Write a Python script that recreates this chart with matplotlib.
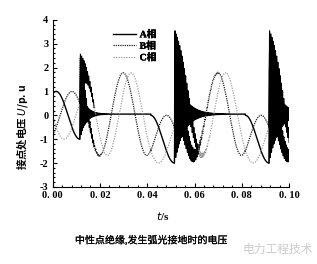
import numpy as np
import matplotlib
matplotlib.use("Agg")
import matplotlib.pyplot as plt
import matplotlib.patheffects as pe
from matplotlib.ticker import MultipleLocator, FuncFormatter

# values (single-phase arc grounding, isolated neutral)
freq = 50.0                      # power frequency
t_peak_a = 0.0015                # first positive peak of phase A
t_ignite = [0.0115, 0.0515, 0.0915]   # arc (re)ignitions, phase A at its negative peak
t_extinct = [0.0415, 0.0815]          # arc extinctions
neutral_shift = [-1.0, -1.0]          # neutral voltage left after each extinction
arc_level = 0.05                      # phase A voltage while the arc burns
burst_tau = [0.0024, 0.004, 0.004]    # decay of the oscillation after each ignition
burst_freq = 2000.0
phase_names = ["A相", "B相", "C相"]

plt.rcParams["axes.unicode_minus"] = False
cjk = ["Liberation Serif", "Noto Sans CJK SC"]

t = np.arange(0.0, 0.1, 2e-6)
theta = 2 * np.pi * freq * (t - t_peak_a)
src = [np.cos(theta), np.cos(theta - 2 * np.pi / 3), np.cos(theta + 2 * np.pi / 3)]

# neutral point voltage, piecewise
vn = np.zeros_like(t)
for k, ti in enumerate(t_ignite):
    t_end = t_extinct[k] if k < len(t_extinct) else 1.0
    on = (t >= ti) & (t < t_end)
    vn[on] = arc_level - src[0][on]
    if k < len(t_extinct):
        t_next = t_ignite[k + 1]
        off = (t >= t_extinct[k]) & (t < t_next)
        vn[off] = neutral_shift[k]

phases = [s + vn for s in src]

# high frequency transient at every ignition
for k, ti in enumerate(t_ignite):
    i0 = np.searchsorted(t, ti)
    dt = t[i0:] - ti
    env = np.exp(-dt / burst_tau[k]) * np.cos(2 * np.pi * burst_freq * dt)
    for p in phases:
        jump = p[i0 - 1] - p[i0]
        p[i0:] = p[i0:] + jump * env

fig = plt.figure(figsize=(3.17, 2.64), dpi=100)
ax = fig.add_axes([0.166, 0.292, 0.746, 0.633])

ax.plot(t, phases[0], color="black", lw=1.0, label=phase_names[0])
ax.plot(t, phases[1], color="#222222", lw=0.9, ls=(0, (1, 0.8)), label=phase_names[1])
ax.plot(t, phases[2], color="#8c8c8c", lw=0.8, ls=(0, (1, 1.3)), label=phase_names[2])

# the transients look solid black in the print
for k, ti in enumerate(t_ignite):
    win = (t >= ti) & (t < ti + 2.5 * burst_tau[k])
    for p in phases:
        ax.plot(t[win], p[win], color="black", lw=0.7)

ax.set_xlim(0, 0.1)
ax.set_ylim(-3, 4)
ax.spines["top"].set_visible(False)
ax.spines["right"].set_visible(False)
ax.xaxis.set_major_locator(MultipleLocator(0.02))
ax.xaxis.set_minor_locator(MultipleLocator(0.004))
ax.yaxis.set_major_locator(MultipleLocator(1))
ax.yaxis.set_minor_locator(MultipleLocator(0.2))
ax.xaxis.set_major_formatter(FuncFormatter(lambda v, _: f"{v:.2f}".replace(".", ". ")))
ax.yaxis.set_major_formatter(FuncFormatter(lambda v, _: f"{v:.0f}"))
ax.tick_params(which="both", direction="in", width=0.8)
ax.tick_params(which="major", length=3, pad=3)
ax.tick_params(which="minor", length=1.5)
for lab in ax.get_xticklabels() + ax.get_yticklabels():
    lab.set_fontfamily("Liberation Serif")
    lab.set_fontweight("bold")
    lab.set_fontsize(7.5)

ax.set_ylabel("接点处电压 $U$/p. u", family=["Noto Sans CJK SC", "DejaVu Sans"],
              fontsize=7.5, fontweight="bold")
ax.yaxis.set_label_coords(-0.095, 0.36)
ax.set_xlabel("$t$/s", family="Liberation Serif", fontsize=8, fontweight="bold")
ax.xaxis.set_label_coords(0.467, -0.14)

leg = ax.legend(loc="upper left", bbox_to_anchor=(0.22, 0.99), frameon=False,
                handlelength=2.3, handletextpad=0.4, labelspacing=0.25,
                prop={"family": cjk, "size": 7, "weight": "bold"})
for txt in leg.get_texts():
    txt.set_path_effects([pe.withStroke(linewidth=0.3, foreground="black")])

cap = fig.text(0.477, 0.09, "中性点绝缘,发生弧光接地时的电压", family=cjk,
               fontsize=7.2, ha="center", va="center")
cap.set_path_effects([pe.withStroke(linewidth=0.15, foreground="black")])
fig.text(0.875, 0.052, "电力工程技术", family=cjk, fontsize=8.5,
         color="#cccccc", ha="center", va="center")

fig.savefig("out.png", dpi=100)
